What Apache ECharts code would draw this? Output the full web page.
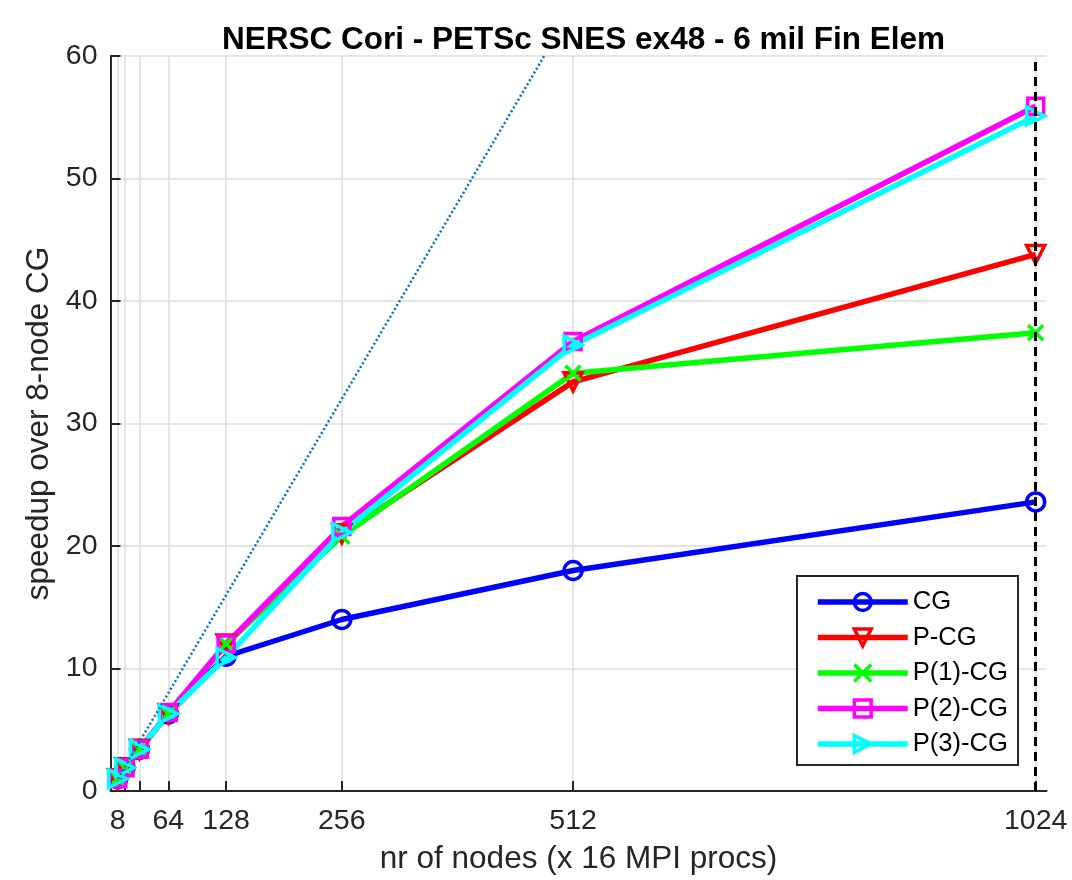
<!DOCTYPE html>
<html>
<head>
<meta charset="utf-8">
<style>
  html, body { margin: 0; padding: 0; background: #fff; }
  #chart { width: 1072px; height: 880px; }
</style>
<script src="https://cdn.jsdelivr.net/npm/echarts@6/dist/echarts.min.js"></script>
</head>
<body>
<div id="chart"></div>
<script>
// Node counts (x 16 MPI processes each)
const nodes = [8, 16, 32, 64, 128, 256, 512, 1024];
// Labelled ticks on the node axis
const nodeTickLabels = [8, 64, 128, 256, 512, 1024];
// Speedup over the 8-node CG run
const cg   = [1.0, 1.9, 3.4, 6.3, 11.0, 14.0, 18.0, 23.6];
const pcg  = [1.0, 1.9, 3.4, 6.3, 12.0, 21.0, 33.4, 43.8];
const p1cg = [1.0, 1.9, 3.4, 6.3, 12.0, 20.8, 34.1, 37.4];
const p2cg = [1.0, 1.9, 3.4, 6.4, 12.0, 21.6, 36.7, 55.9];
const p3cg = [1.0, 1.9, 3.4, 6.3, 10.9, 21.1, 36.4, 55.1];
// Ideal linear speedup reference
const ideal = [1, 2, 4, 8, 16, 32, 64, 128];
// Largest run marker
const maxNodes = 1024;

const FONT = '"Liberation Sans", Arial, Helvetica, sans-serif';
const AXIS_COLOR = '#262626';

const pair = (vals) => nodes.map((n, i) => [n, vals[i]]);

function methodSeries(name, color, vals, symbol, rotate, size) {
  return {
    name: name,
    type: 'line',
    data: pair(vals),
    symbol: symbol,
    symbolSize: size || 18,
    symbolRotate: rotate || 0,
    lineStyle: { color: color, width: 5.5 },
    itemStyle: { color: 'rgba(0,0,0,0)', borderColor: color, borderWidth: 3.5 },
    emphasis: { disabled: true },
    z: 3
  };
}

const chart = echarts.init(document.getElementById('chart'), null, { renderer: 'canvas' });

chart.setOption({
  animation: false,
  backgroundColor: '#ffffff',
  textStyle: { fontFamily: FONT },
  title: {
    text: 'NERSC Cori - PETSc SNES ex48 - 6 mil Fin Elem',
    left: 578.5,
    textAlign: 'center',
    top: 19,
    textStyle: { fontFamily: FONT, fontSize: 31.5, fontWeight: 'bold', color: '#000' }
  },
  grid: { left: 110.5, right: 25.5, top: 56, bottom: 85, containLabel: false },
  legend: {
    orient: 'vertical',
    left: 797,
    top: 576,
    padding: [13, 10, 8, 18],
    itemWidth: 90,
    itemHeight: 21,
    itemGap: 9.5,
    backgroundColor: '#ffffff',
    borderColor: AXIS_COLOR,
    borderWidth: 2,
    borderRadius: 0,
    selectedMode: false,
    lineStyle: { width: 5.5 },
    itemStyle: { borderWidth: 3.5 },
    textStyle: { fontFamily: FONT, fontSize: 25.6, color: '#000', lineHeight: 26, height: 26 },
    data: ['CG', 'P-CG', 'P(1)-CG', 'P(2)-CG', 'P(3)-CG']
  },
  xAxis: {
    type: 'value',
    min: 0,
    max: 1036,
    name: 'nr of nodes (x 16 MPI procs)',
    nameLocation: 'middle',
    nameGap: 52,
    nameTextStyle: { fontFamily: FONT, fontSize: 31.5, color: AXIS_COLOR },
    axisLine: { show: true, onZero: false, lineStyle: { color: AXIS_COLOR, width: 2 } },
    axisTick: { show: true, inside: false, length: -10, customValues: nodes, lineStyle: { color: AXIS_COLOR, width: 2 } },
    axisLabel: {
      customValues: nodeTickLabels,
      margin: 16,
      fontFamily: FONT,
      fontSize: 28.5,
      color: AXIS_COLOR,
      formatter: (v) => String(v)
    },
    splitLine: { show: true, lineStyle: { color: '#dcdcdc', width: 1.5 } }
  },
  yAxis: {
    type: 'value',
    min: 0,
    max: 60,
    interval: 10,
    name: 'speedup over 8-node CG',
    nameLocation: 'middle',
    nameGap: 50,
    nameTextStyle: { fontFamily: FONT, fontSize: 31.5, color: AXIS_COLOR },
    axisLine: { show: true, onZero: false, lineStyle: { color: AXIS_COLOR, width: 2 } },
    axisTick: { show: true, inside: false, length: -10, lineStyle: { color: AXIS_COLOR, width: 2 } },
    axisLabel: { margin: 13, fontFamily: FONT, fontSize: 28.5, color: AXIS_COLOR },
    splitLine: { show: true, lineStyle: { color: '#dcdcdc', width: 1.5 } }
  },
  series: [
    methodSeries('CG', '#0000ff', cg, 'circle'),
    methodSeries('P-CG', '#ff0000', pcg, 'triangle', 180),
    methodSeries('P(1)-CG', '#00ff00', p1cg, 'path://M0,0L10,10M10,0L0,10', 0, 15),
    methodSeries('P(2)-CG', '#ff00ff', p2cg, 'rect', 0, 16),
    methodSeries('P(3)-CG', '#00ffff', p3cg, 'triangle', -90),
    {
      name: 'ideal',
      type: 'line',
      data: pair(ideal),
      symbol: 'none',
      clip: true,
      lineStyle: { color: '#0072bd', width: 2.5, type: [2, 2.5] },
      emphasis: { disabled: true },
      z: 4,
      markLine: {
        silent: true,
        symbol: 'none',
        label: { show: false },
        lineStyle: { color: '#000', width: 3, type: [9, 6] },
        data: [{ xAxis: maxNodes }]
      }
    }
  ]
});
</script>
</body>
</html>
